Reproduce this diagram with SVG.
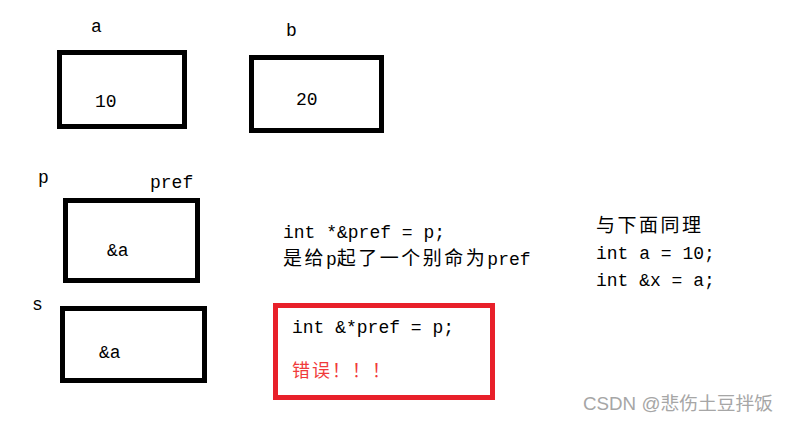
<svg xmlns="http://www.w3.org/2000/svg" width="789" height="422" viewBox="0 0 789 422">
<style>
.box{fill:none;stroke:#000;stroke-width:5}
.t{font-family:"Liberation Mono","Noto Sans CJK SC",monospace;font-size:18px;fill:#000}
.cjk{font-size:19px;letter-spacing:2.5px}
.red{fill:#f03a3a}
.wm{font-family:"Liberation Sans","Noto Sans CJK SC",sans-serif;font-size:18px;fill:#a6a6a6}
</style>
<rect width="789" height="422" fill="#fff"/>
<g id="node-a">
<text class="t" x="91" y="32">a</text>
<rect class="box" x="59.5" y="52.5" width="125" height="74"/>
<text class="t" x="95" y="107">10</text>
</g>
<g id="node-b">
<text class="t" x="286" y="36">b</text>
<rect class="box" x="251.5" y="57.5" width="130" height="73"/>
<text class="t" x="296" y="105">20</text>
</g>
<g id="node-p">
<text class="t" x="38" y="183">p</text>
<text class="t" x="150" y="188">pref</text>
<rect class="box" x="65.5" y="200.5" width="132" height="80"/>
<text class="t" x="107" y="256">&amp;a</text>
</g>
<g id="node-s">
<text class="t" x="32" y="310">s</text>
<rect class="box" x="62.5" y="308.5" width="142" height="72"/>
<text class="t" x="99" y="358">&amp;a</text>
</g>
<g id="note1">
<text class="t" x="283" y="238">int *&amp;pref = p;</text>
<text class="t" x="283" y="265"><tspan class="cjk">是给</tspan>p<tspan class="cjk">起了一个别命为</tspan>pref</text>
</g>
<g id="error-box">
<rect x="275.5" y="305.5" width="217" height="92" fill="none" stroke="#e8202a" stroke-width="5"/>
<text class="t" x="292" y="333">int &amp;*pref = p;</text>
<text class="t red" x="292" y="377" font-size="19" textLength="98" lengthAdjust="spacing">错误！！！</text>
</g>
<g id="note2">
<text class="t cjk" x="596" y="232">与下面同理</text>
<text class="t" x="596" y="259">int a = 10;</text>
<text class="t" x="596" y="286">int &amp;x = a;</text>
</g>
<g id="connectors"></g>
<text class="wm" x="583" y="410" textLength="190" lengthAdjust="spacingAndGlyphs">CSDN @悲伤土豆拌饭</text>
</svg>
